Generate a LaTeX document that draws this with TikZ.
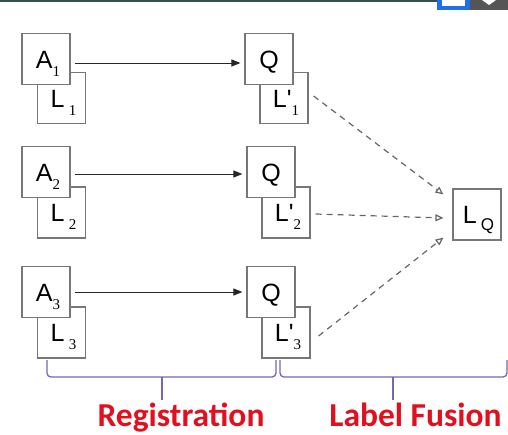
\documentclass[tikz,border=0pt]{standalone}
\usepackage{fontspec}
\setmainfont{Liberation Sans}
\newfontfamily\labfont{Carlito}
\newfontfamily\primefont{Liberation Sans}[Ligatures=TeXOff]
\newfontfamily\digfont{Liberation Serif}
\usetikzlibrary{arrows.meta}
\definecolor{boxgray}{HTML}{777777}
\definecolor{bracecol}{HTML}{7766B8}
\definecolor{labred}{HTML}{E0101E}
\definecolor{topline}{HTML}{2E5448}
\definecolor{iconblue}{HTML}{1E6FE8}
\definecolor{icongray}{HTML}{555555}
\newcommand{\sdig}[1]{\raisebox{-8pt}{\fontsize{15}{15}\digfont #1}}
\newcommand{\prm}{{\primefont\char"0027}}
\begin{document}
\begin{tikzpicture}[x=1pt,y=-1pt,
  imgbox/.style={draw=boxgray,line width=1.2pt,fill=white,minimum width=48pt,minimum height=51pt,inner sep=0pt,
    font=\fontsize{25}{25}\selectfont,text height=18pt,text depth=0pt},
  regarrow/.style={draw=black!85,line width=1pt,-{Triangle[length=9pt,width=7pt]},shorten <=4pt,shorten >=4pt},
  fusarrow/.style={draw=black!60,line width=1.2pt,dash pattern=on 6pt off 5pt,-{Triangle[open,length=8pt,width=7pt]}},
  bracestyle/.style={draw=bracecol,line width=1.3pt,rounded corners=4pt},
  labstyle/.style={text=labred,font=\labfont\bfseries\fontsize{33.5}{33.5}\selectfont,inner sep=0pt,anchor=base}
]
\useasboundingbox (0,0) rectangle (508,434);
% screenshot top bar
\fill[topline] (0,0) rectangle (437,2);
\fill[iconblue] (437,0) rectangle (470,10);
\fill[white] (442,0) rectangle (465,6);
\fill[icongray] (470,0) rectangle (508,10);
\fill[white] (482,0) -- (496,0) -- (489,5) -- cycle;

% row 1
\node[imgbox] (L1) at (61.5,98) {\hspace{4pt}L\,\sdig{1}};
\node[imgbox] (A1) at (46,59) {\hspace{4pt}A\sdig{1}};
\node[imgbox] (Lp1) at (284,98) {\hspace{4pt}L\prm\sdig{1}};
\node[imgbox] (Q1) at (269,59) {Q};
% row 2
\node[imgbox] (L2) at (61.5,212.5) {\hspace{4pt}L\,\sdig{2}};
\node[imgbox] (A2) at (46,172) {\hspace{4pt}A\sdig{2}};
\node[imgbox] (Lp2) at (286,212.5) {\hspace{4pt}L\prm\sdig{2}};
\node[imgbox] (Q2) at (271,172) {Q};
% row 3
\node[imgbox] (L3) at (61.5,332.5) {\hspace{4pt}L\,\sdig{3}};
\node[imgbox] (A3) at (46,292) {\hspace{4pt}A\sdig{3}};
\node[imgbox] (Lp3) at (286,332.5) {\hspace{4pt}L\prm\sdig{3}};
\node[imgbox] (Q3) at (271,292) {Q};
% fused label
\node[imgbox] (LQ) at (477,214.5) {\hspace{3pt}L\,\raisebox{-7pt}{\fontsize{17}{17}\selectfont Q}};

% registration arrows
\draw[regarrow] ([yshift=-4pt]A1.east) -- ([yshift=-4pt]Q1.west);
\draw[regarrow] ([yshift=-2pt]A2.east) -- ([yshift=-2pt]Q2.west);
\draw[regarrow] (A3.east) -- (Q3.west);

% fusion arrows
\draw[fusarrow] ([shift={(5pt,2pt)}]Lp1.east) -- ([shift={(-9pt,-6pt)}]LQ.north west);
\draw[fusarrow] ([shift={(5pt,-1.5pt)}]Lp2.east) -- ([shift={(-9pt,-3.5pt)}]LQ.west);
\draw[fusarrow] ([shift={(8pt,-3.5pt)}]Lp3.east) -- ([shift={(-9pt,3pt)}]LQ.south west);

% braces
\coordinate (b1s) at (47,360);
\coordinate (b1e) at (276,360);
\coordinate (b1m) at (162,377);
\coordinate (b1t) at (162,400);
\draw[bracestyle] (b1s) -- (47,377) -- (276,377) -- (b1e);
\draw[bracestyle] (b1m) -- (b1t);
\coordinate (b2s) at (280,360);
\coordinate (b2e) at (507,360);
\coordinate (b2m) at (393,377);
\coordinate (b2t) at (393,400);
\draw[bracestyle] (b2s) -- (280,377) -- (507,377) -- (b2e);
\draw[bracestyle] (b2m) -- (b2t);

% labels
\node[labstyle] (reg) at (181,426) {Registration};
\node[labstyle] (fus) at (415.5,426) {Label Fusion};
\end{tikzpicture}
\end{document}
